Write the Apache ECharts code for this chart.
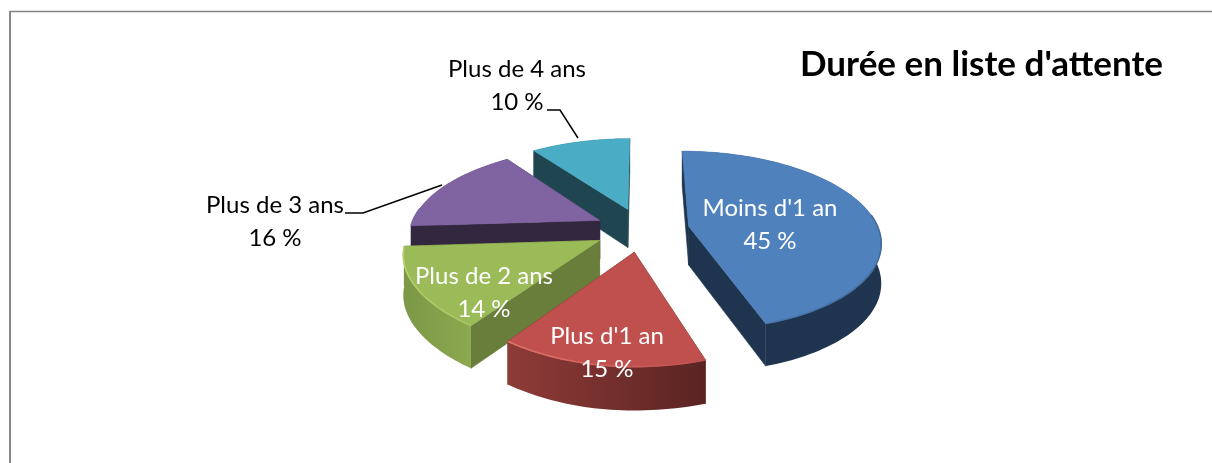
<!DOCTYPE html>
<html><head><meta charset="utf-8">
<style>html,body{margin:0;padding:0;background:#fff}#c{width:1212px;height:463px}</style>
<script src="https://cdn.jsdelivr.net/npm/echarts@6/dist/echarts.min.js"></script>
</head><body><div id="c"></div>
<script>
const categories = ["Moins d'1 an", "Plus d'1 an", "Plus de 2 ans", "Plus de 3 ans", "Plus de 4 ans"];
const values = [45, 15, 14, 16, 10];
const titleText = "Durée en liste d'attente";

const topColors = ['#4F81BD', '#C0504D', '#9BBB59', '#8064A2', '#4BACC6'];
const cutColors = ['#1F344F', '#5E2624', '#6A7E3B', '#33273F', '#1F4650'];
const rimLeft   = ['#1F344F', '#8F3B38', '#7C9846', '#33273F', '#1F4650'];
const rimRight  = ['#1F344F', '#5A2422', '#8CA94F', '#33273F', '#1F4650'];
const bevelLeft  = ['#4F81BD', '#E0726D', '#B6D06C', '#8064A2', '#4BACC6'];
const bevelRight = ['#42699A', '#C0504D', '#A9C463', '#8064A2', '#4BACC6'];
const labelColors = ['#fff', '#fff', '#fff', '#000', '#000'];
const labelAnchors = [[770, 225], [607, 353], [484, 293], [275, 222], [517, 86]];
const leaders = [null, null, null, [[345, 213], [363, 213], [442, 185]], [[547, 110], [560, 110], [578, 138]]];

const FONT = 'Lato, Carlito, Calibri, sans-serif';
const CX = 642, CY = 229.6, RX = 190, RY = 88, DEPTH = 39, K = 0.16, EXPLODE = 0.25, SKEW = 13;
const total = values.reduce((a, b) => a + b, 0);

function proj(U, V) {
  const s = 1 / (1 - K * V);
  const front = Math.max(V, 0), left = Math.max(-U, 0);
  return { x: CX + U * RX * s + SKEW * front * front * left, y: CY + V * RY * s, d: DEPTH * (1 + 0.1 * V), v: V };
}
function renderSlice(params, api) {
  const i = params.dataIndex;
  let before = 0;
  for (let j = 0; j < i; j++) before += values[j];
  const a0 = before / total * 360, a1 = (before + api.value(0)) / total * 360;
  const mid = (a0 + a1) / 2 * Math.PI / 180;
  const eu = EXPLODE * Math.sin(mid), ev = -EXPLODE * Math.cos(mid);
  const apex = proj(eu, ev);
  const rim = [];
  const n = Math.max(4, Math.ceil((a1 - a0) / 1.5));
  for (let t = 0; t <= n; t++) {
    const r = (a0 + (a1 - a0) * t / n) * Math.PI / 180;
    rim.push(proj(eu + Math.sin(r), ev - Math.cos(r)));
  }
  const pts = rim.map(p => [p.x, p.y]);
  const low = rim.map(p => [p.x, p.y + p.d]);
  const first = rim[0], last = rim[rim.length - 1];
  const z = 100 + Math.round(-Math.cos(mid) * 50) * 4;
  const xs = rim.map(p => p.x), xmin = Math.min(...xs), xmax = Math.max(...xs);
  const face = (points, fill, add) => ({
    type: 'polygon', z2: z + add, shape: { points },
    style: { fill, stroke: typeof fill === 'string' ? fill : null, lineWidth: 0.6 }, silent: true
  });
  const hGrad = (c0, c1) => ({
    type: 'linear', x: xmin, y: 0, x2: xmax, y2: 0, global: true,
    colorStops: [{ offset: 0, color: c0 }, { offset: 1, color: c1 }]
  });
  const front = rim.filter(p => p.v > -0.15 + ev).map(p => [p.x, p.y]);
  const children = [
    face([[apex.x, apex.y], [first.x, first.y], [first.x, first.y + first.d], [apex.x, apex.y + apex.d]], cutColors[i], 0),
    face([[apex.x, apex.y], [last.x, last.y], [last.x, last.y + last.d], [apex.x, apex.y + apex.d]], cutColors[i], 1),
    face(pts.concat(low.slice().reverse()), hGrad(rimLeft[i], rimRight[i]), 2),
    face([[apex.x, apex.y]].concat(pts), topColors[i], 3)
  ];
  if (front.length > 1) children.push({
    type: 'polyline', z2: z + 3, shape: { points: front }, silent: true,
    style: { stroke: hGrad(bevelLeft[i], bevelRight[i]), lineWidth: 1.6, fill: null }
  });
  return { type: 'group', children };
}
function renderLabel(params, api) {
  const i = params.dataIndex, a = labelAnchors[i];
  const children = [{
    type: 'text', z2: 1000, silent: true,
    style: {
      text: categories[i] + '\n' + api.value(0) + ' %', x: a[0], y: a[1],
      align: 'center', verticalAlign: 'middle', lineHeight: 33,
      fill: labelColors[i], fontFamily: FONT, fontSize: 24
    }
  }];
  if (leaders[i]) children.push({
    type: 'polyline', z2: 1000, silent: true, shape: { points: leaders[i] },
    style: { stroke: '#000', lineWidth: 1.5, fill: null }
  });
  return { type: 'group', children };
}
const chart = echarts.init(document.getElementById('c'), null, { renderer: 'canvas' });
chart.setOption({
  animation: false,
  backgroundColor: '#fff',
  title: {
    text: titleText, left: 795, top: 42,
    textStyle: { fontFamily: FONT, fontWeight: 'bold', fontSize: 35, color: '#000' }
  },
  graphic: [
    { type: 'line', shape: { x1: 10, y1: 11.5, x2: 1212, y2: 11.5 }, style: { stroke: '#868686', lineWidth: 1.5 }, silent: true },
    { type: 'line', shape: { x1: 10, y1: 11, x2: 10, y2: 463 }, style: { stroke: '#868686', lineWidth: 2 }, silent: true }
  ],
  series: [
    { type: 'custom', coordinateSystem: 'none', renderItem: renderSlice, data: values.map(v => [v]), z: 2, silent: true },
    { type: 'custom', coordinateSystem: 'none', renderItem: renderLabel, data: values.map(v => [v]), z: 3, silent: true }
  ]
});
</script></body></html>
